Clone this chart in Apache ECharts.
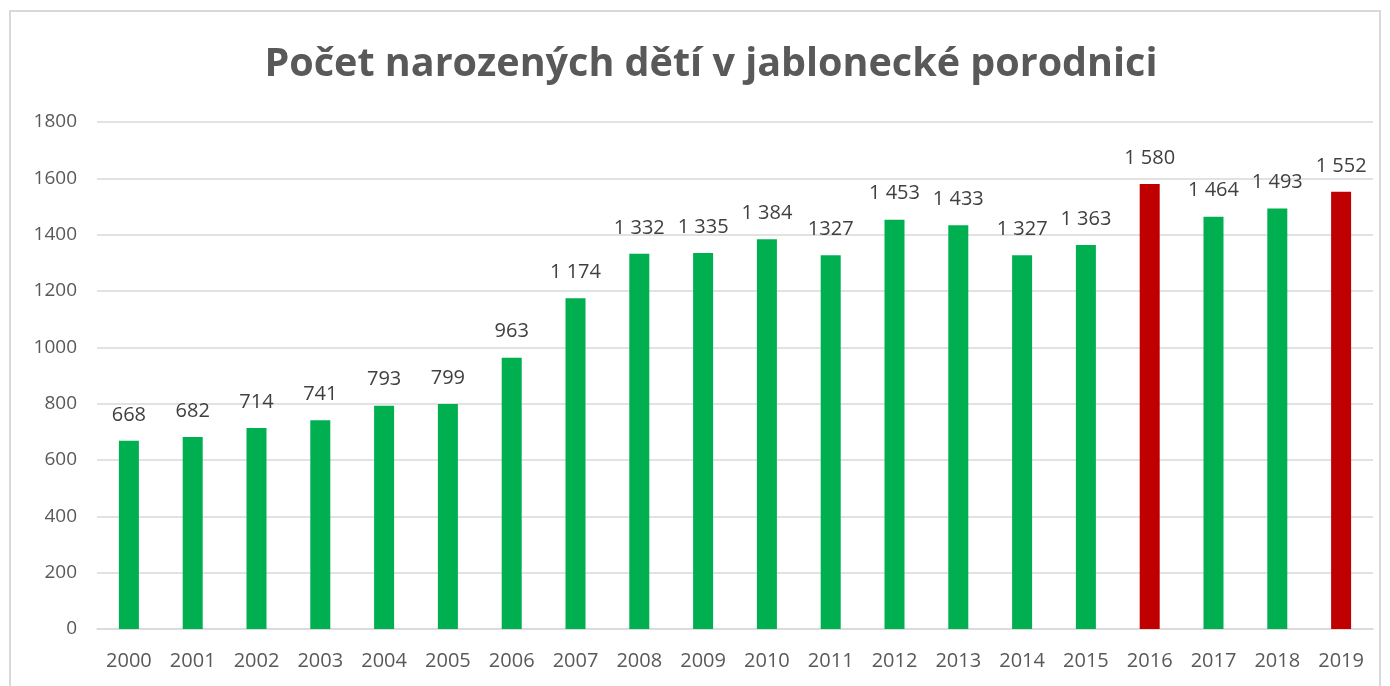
<!DOCTYPE html>
<html>
<head>
<meta charset="utf-8">
<script src="https://cdn.jsdelivr.net/npm/echarts@6/dist/echarts.min.js"></script>
<style>
html, body { margin: 0; padding: 0; background: #fff; }
#frame { position: absolute; left: 9px; top: 10px; width: 1372px; height: 690px; border: 2px solid #d9d9d9; box-sizing: border-box; }
#chart { position: absolute; left: 0; top: 0; width: 1390px; height: 686px; }
</style>
</head>
<body>
<div id="frame"></div>
<div id="chart"></div>
<script>
var years = ['2000', '2001', '2002', '2003', '2004', '2005', '2006', '2007', '2008', '2009',
    '2010', '2011', '2012', '2013', '2014', '2015', '2016', '2017', '2018', '2019'];
var births = [668, 682, 714, 741, 793, 799, 963, 1174, 1332, 1335,
    1384, 1327, 1453, 1433, 1327, 1363, 1580, 1464, 1493, 1552];
var valueLabels = ['668', '682', '714', '741', '793', '799', '963', '1 174', '1 332', '1 335',
    '1 384', '1327', '1 453', '1 433', '1 327', '1 363', '1 580', '1 464', '1 493', '1 552'];
var highlighted = ['2016', '2019'];

var chart = echarts.init(document.getElementById('chart'));
var font = 'Open Sans, sans-serif';
chart.setOption({
    animation: false,
    title: {
        text: 'Počet narozených dětí v jablonecké porodnici',
        left: 706,
        textAlign: 'center',
        top: 40,
        textStyle: { fontFamily: font, fontSize: 39.5, fontWeight: 'bold', color: '#595959' }
    },
    grid: { left: 97, right: 17, top: 122, bottom: 57 },
    xAxis: {
        type: 'category',
        data: years,
        axisLine: { lineStyle: { color: '#d9d9d9', width: 1.5 } },
        axisTick: { show: false },
        axisLabel: { fontFamily: font, fontSize: 20, color: '#595959', margin: 22 }
    },
    yAxis: {
        type: 'value',
        min: 0,
        max: 1800,
        interval: 200,
        axisLine: { show: false },
        axisTick: { show: false },
        splitLine: { lineStyle: { color: '#d9d9d9', width: 1.5 } },
        axisLabel: {
            fontFamily: font, fontSize: 19, color: '#595959', margin: 20,
            formatter: function (v) { return String(v); }
        }
    },
    series: [{
        type: 'bar',
        barWidth: 20,
        data: births.map(function (v, i) {
            var red = highlighted.indexOf(years[i]) >= 0;
            return { value: v, itemStyle: { color: red ? '#c00000' : '#00b050' } };
        }),
        label: {
            show: true,
            position: 'top',
            distance: 16,
            fontFamily: font,
            fontSize: 20,
            color: '#404040',
            formatter: function (p) { return valueLabels[p.dataIndex]; }
        }
    }]
});
</script>
</body>
</html>
